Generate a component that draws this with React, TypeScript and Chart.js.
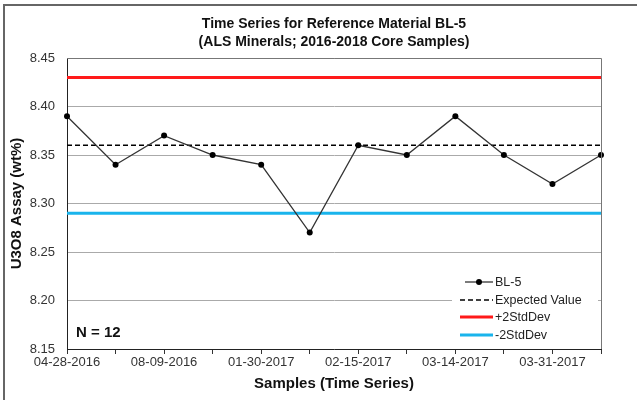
import React, { useEffect, useRef } from 'react';
import { Chart, registerables } from 'chart.js';

Chart.register(...registerables);

const categories = ['04-28-2016', '', '08-09-2016', '', '01-30-2017', '', '02-15-2017', '', '03-14-2017', '', '03-31-2017', ''];
const bl5Values = [8.39, 8.34, 8.37, 8.35, 8.34, 8.27, 8.36, 8.35, 8.39, 8.35, 8.32, 8.35];
const expectedValue = 8.36;
const plus2StdDev = 8.43;
const minus2StdDev = 8.29;
const yTickValues = [8.15, 8.2, 8.25, 8.3, 8.35, 8.4, 8.45];
const titleLines = ['Time Series for Reference Material BL-5', '(ALS Minerals; 2016-2018 Core Samples)'];
const yTitle = 'U3O8 Assay (wt%)';
const xTitle = 'Samples (Time Series)';
const nLabel = 'N = 12';
const legendItems = ['BL-5', 'Expected Value', '+2StdDev', '-2StdDev'];

const FONT = 'Arial, "Liberation Sans", Helvetica, sans-serif';
const RED = '#ff1a1a';
const BLUE = '#19b4ec';

const extrasPlugin = {
  id: 'extras',
  afterDatasetsDraw(chart: any) {
    const { ctx, chartArea } = chart;
    ctx.save();
    // plot top/right border
    ctx.strokeStyle = '#777';
    ctx.lineWidth = 1;
    ctx.beginPath();
    ctx.moveTo(chartArea.left, chartArea.top + 0.5);
    ctx.lineTo(chartArea.right + 0.5, chartArea.top + 0.5);
    ctx.lineTo(chartArea.right + 0.5, chartArea.bottom);
    ctx.stroke();

    // legend box
    const lx = 452, ly = 272, lw = 146, lh = 74;
    ctx.fillStyle = '#fff';
    ctx.fillRect(lx, ly, lw, lh);
    const rows = [282, 300, 317, 335];
    ctx.font = `12.5px ${FONT}`;
    ctx.textBaseline = 'middle';
    ctx.textAlign = 'left';
    rows.forEach((ry, i) => {
      ctx.save();
      if (i === 0) {
        ctx.strokeStyle = '#333';
        ctx.lineWidth = 1.3;
        ctx.beginPath();
        ctx.moveTo(465, ry);
        ctx.lineTo(493, ry);
        ctx.stroke();
        ctx.fillStyle = '#000';
        ctx.beginPath();
        ctx.arc(479, ry, 3, 0, Math.PI * 2);
        ctx.fill();
      } else {
        ctx.strokeStyle = i === 1 ? '#000' : i === 2 ? RED : BLUE;
        ctx.lineWidth = i === 1 ? 1.5 : 3;
        if (i === 1) ctx.setLineDash([5, 3]);
        ctx.beginPath();
        ctx.moveTo(460, ry);
        ctx.lineTo(493, ry);
        ctx.stroke();
      }
      ctx.restore();
      ctx.fillStyle = '#222';
      ctx.fillText(legendItems[i], 495, ry + 0.5);
    });

    // N label
    ctx.font = `bold 15px ${FONT}`;
    ctx.fillStyle = '#111';
    ctx.fillText(nLabel, 76, 333);
    ctx.restore();
  },
  afterDraw(chart: any) {
    const { ctx, chartArea } = chart;
    ctx.save();
    // outer frame
    ctx.strokeStyle = '#666';
    ctx.lineWidth = 2;
    ctx.beginPath();
    ctx.moveTo(4, 400);
    ctx.lineTo(4, 5);
    ctx.lineTo(637, 5);
    ctx.stroke();
    // title
    ctx.font = `bold 14px ${FONT}`;
    ctx.fillStyle = '#111';
    ctx.textAlign = 'center';
    ctx.textBaseline = 'middle';
    const cx = (chartArea.left + chartArea.right) / 2;
    ctx.fillText(titleLines[0], cx, 24);
    ctx.fillText(titleLines[1], cx, 42);
    ctx.restore();
  },
};

export default function App() {
  const ref = useRef<HTMLCanvasElement>(null);
  useEffect(() => {
    document.body.style.margin = '0';
    const flat = (v: number) => categories.map(() => v);
    const chart = new Chart(ref.current as HTMLCanvasElement, {
      type: 'line',
      data: {
        labels: categories,
        datasets: [
          {
            label: legendItems[0],
            data: bl5Values,
            borderColor: '#333',
            borderWidth: 1.3,
            pointRadius: 3,
            pointBackgroundColor: '#000',
            pointBorderWidth: 0,
            tension: 0,
          },
          {
            label: legendItems[1],
            data: flat(expectedValue),
            borderColor: '#000',
            borderWidth: 1.5,
            borderDash: [5, 3],
            pointRadius: 0,
          },
          {
            label: legendItems[2],
            data: flat(plus2StdDev),
            borderColor: RED,
            borderWidth: 3,
            pointRadius: 0,
          },
          {
            label: legendItems[3],
            data: flat(minus2StdDev),
            borderColor: BLUE,
            borderWidth: 3,
            pointRadius: 0,
          },
        ],
      },
      options: {
        responsive: false,
        animation: false,
        devicePixelRatio: 1,
        layout: { padding: { left: 0, top: 58, right: 36, bottom: 0 } },
        plugins: { legend: { display: false }, tooltip: { enabled: false }, title: { display: false } },
        scales: {
          x: {
            type: 'category',
            offset: false,
            afterFit: (s: any) => { s.height = 51; },
            grid: { drawOnChartArea: false, drawTicks: true, tickLength: 5, color: '#333' },
            border: { display: true, color: '#222', width: 1 },
            ticks: {
              autoSkip: false,
              maxRotation: 0,
              padding: 1,
              color: '#333',
              font: { family: FONT, size: 13 },
            },
            title: {
              display: true,
              text: xTitle,
              color: '#111',
              font: { family: FONT, size: 15, weight: 'bold' },
              padding: { top: 0, bottom: 7 },
            },
          },
          y: {
            min: 8.15,
            max: 8.45,
            afterFit: (s: any) => { s.width = 67; },
            afterBuildTicks: (s: any) => { s.ticks = yTickValues.map((v) => ({ value: v })); },
            grid: { drawTicks: false, color: '#aaa', lineWidth: 1 },
            border: { display: true, color: '#222', width: 1 },
            ticks: {
              padding: 12,
              color: '#333',
              font: { family: FONT, size: 13 },
              callback: (v: any) => Number(v).toFixed(2),
            },
            title: {
              display: true,
              text: yTitle,
              color: '#111',
              font: { family: FONT, size: 15, weight: 'bold' },
              padding: { top: 8, bottom: 0 },
            },
          },
        },
      },
      plugins: [extrasPlugin],
    } as any);
    return () => chart.destroy();
  }, []);
  return <canvas ref={ref} width={637} height={400} style={{ display: 'block' }} />;
}
